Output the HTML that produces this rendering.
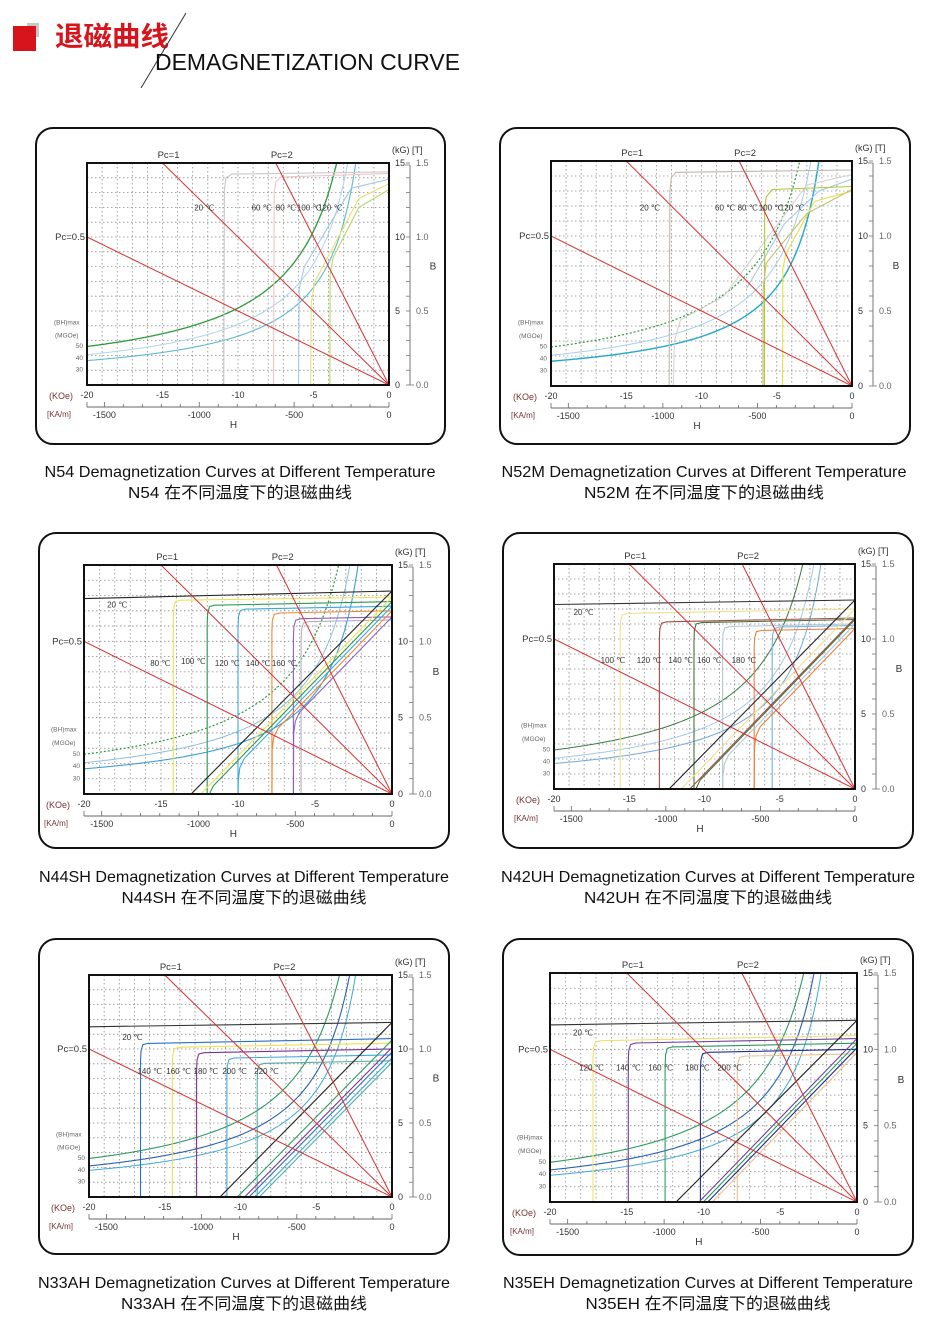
<!DOCTYPE html>
<html><head><meta charset="utf-8">
<style>
html,body{margin:0;padding:0;background:#fff;}
svg{display:block;}
</style></head>
<body>
<svg id="s" xmlns="http://www.w3.org/2000/svg" width="940" height="1321" viewBox="0 0 940 1321">
<rect width="940" height="1321" fill="#fff"/>
<rect x="27" y="23" width="12" height="14" fill="#c8c8c8"/>
<rect x="13" y="26" width="23" height="25" fill="#d7141c"/>
<text x="55" y="46" font-family="'Noto Sans CJK SC','WenQuanYi Zen Hei',sans-serif" font-weight="bold" font-size="27" fill="#d7141c" textLength="114" lengthAdjust="spacingAndGlyphs">退磁曲线</text>
<line x1="186" y1="13" x2="141" y2="88" stroke="#333" stroke-width="1"/>
<text x="155" y="70" font-family="'Liberation Sans',sans-serif" font-size="23" fill="#111" textLength="305" lengthAdjust="spacingAndGlyphs">DEMAGNETIZATION CURVE</text>
</svg>
<script>
(function(){
var NS="http://www.w3.org/2000/svg",S=document.getElementById('s');
function el(t,a,txt,par){var e=document.createElementNS(NS,t);for(var k in a)e.setAttribute(k,a[k]);if(txt!=null)e.textContent=txt;(par||S).appendChild(e);return e;}
var F="'Liberation Sans',Arial,sans-serif";
function K(Br,Hc,sl){sl=sl||0.02;var b=Br+sl*Hc;return [[0,Br],[Hc+0.5,b+0.01],[Hc+0.15,b-0.08],[Hc+0.03,b-0.5],[Hc,b-1.2],[Hc,-1]];}
function N(Br,Hc,s){s=s||1.04;var Hx=-Br/s;if(Hc<=Hx)return [[0,Br],[Hx-0.3,-0.3]];var b=Br+s*(Hc+0.4);return [[0,Br],[Hc+0.4,b],[Hc+0.12,b-0.6],[Hc+0.02,b-1.4],[Hc,-1]];}
var charts=[
{box:[35,127,446,445],p:[87,163,389,385],cap:["N54 Demagnetization Curves at Different Temperature","N54 在不同温度下的退磁曲线"],cy:[477,498],cx:240,w1:391,w2:224,
 bh:[[52,'#2a9a3a',0,1.3],[41,'#b0d4ea',0,1],[33,'#5cbad0',0,1.1]],
 cur:[['#c8c8c8',[[0,14.4],[-10.4,14.25],[-10.8,14.0],[-10.9,13.2],[-10.95,-1]]],
      ['#f0c4c4',[[0,14.3],[-7.2,14.05],[-7.5,13.7],[-7.6,13],[-7.65,-1]]],
      ['#a8c8e6',[[0,13.9],[-2.5,13.3],[-5.6,8],[-5.95,6.5],[-6.0,-1]]],
      ['#ece070',[[0,13.6],[-2,12.6],[-4.9,7],[-5.15,5.5],[-5.2,-1]]],
      ['#b8d868',[[0,13.2],[-2,12],[-3.7,8.6],[-3.9,7.5],[-3.92,-1]]]],
 lab:[['20 ℃',-12.9,11.8],['60 ℃',-9.1,11.8],['80 ℃',-7.5,11.8],['100 ℃',-6.1,11.8],['120 ℃',-4.7,11.8]]},
{box:[499,127,911,445],p:[551,161,852,386],cap:["N52M Demagnetization Curves at Different Temperature","N52M 在不同温度下的退磁曲线"],cy:[477,498],cx:704,w1:405,w2:240,
 bh:[[52,'#2a9a3a',1,1.2],[41,'#a8d0ea',0,1],[33,'#20a8c8',0,1.4]],
 cur:[['#c0b8a8',[[0,14.4],[-11.7,14.25],[-12.0,13.9],[-12.1,13],[-12.15,-1]]],
      ['#d4d4d4',[[0,14.1],[-3,13.4],[-8.5,6],[-11.4,4.4],[-11.8,3],[-11.9,-1]]],
      ['#a8c8e0',[[0,13.8],[-2.2,13],[-4.5,10.8],[-7,6.5]]],
      ['#b0c830',[[0,13.3],[-5.3,13.1],[-5.7,12.6],[-5.8,11.8],[-5.82,-1]]],
      ['#e8e040',[[0,13.0],[-2.5,12.3],[-4.4,8.8],[-4.6,7.8],[-4.62,-1]]],
      ['#c8c070',[[0,13.1],[-3,11.5],[-5.7,8.2],[-5.9,6.5],[-5.92,-1]]]],
 lab:[['20 ℃',-14.1,11.7],['60 ℃',-9.1,11.7],['80 ℃',-7.6,11.7],['100 ℃',-6.2,11.7],['120 ℃',-4.8,11.7]]},
{box:[38,532,450,849],p:[84,565,392,794],cap:["N44SH Demagnetization Curves at Different Temperature","N44SH 在不同温度下的退磁曲线"],cy:[882,903],cx:244,w1:410,w2:245,
 bh:[[52,'#2a9a3a',1,1.2],[41,'#8cc0e0',0,1],[33,'#3aa0d8',0,1.1]],
 cur:[['#222',[[0,13.3],[-20,12.8]]],
      ['#f0e050',K(12.9,-14.2,0.015)],['#2a9a50',K(12.6,-12.0,0.02)],['#38a8e0',K(12.3,-10.0,0.02)],['#f08830',K(12.0,-7.8,0.02)],['#9060c0',K(11.6,-6.4,0.02)],['#b0b0c8',K(11.4,-5.9,0.02)],
      ['#222',N(13.3,-30,1.02)],['#f0e050',N(12.9,-14.2)],['#2a9a50',N(12.6,-12)],['#38a8e0',N(12.3,-10)],['#f08830',N(12.0,-7.8)],['#9060c0',N(11.6,-6.4)]],
 lab:[['20 ℃',-18.5,12.2],['80 ℃',-15.7,8.4],['100 ℃',-13.7,8.5],['120 ℃',-11.5,8.4],['140 ℃',-9.5,8.4],['160 ℃',-7.8,8.4]]},
{box:[502,532,914,849],p:[554,564,855,789],cap:["N42UH Demagnetization Curves at Different Temperature","N42UH 在不同温度下的退磁曲线"],cy:[882,903],cx:708,w1:414,w2:248,
 bh:[[52,'#3a7a40',0,1],[41,'#a8c8e8',0,1],[34,'#70a8d8',0,1]],
 cur:[['#333',[[0,12.6],[-20,12.3]]],
      ['#f0e090',K(12.0,-15.6,0.02)],['#a05040',K(11.4,-13.0,0.02)],['#4a7040',K(11.3,-10.7,0.02)],['#b0c8d8',K(11.0,-8.8,0.02)],['#f08040',K(10.7,-6.7,0.02)],['#70b0e0',K(10.9,-5.5,0.02)],
      ['#222',N(12.6,-30,1.02)],['#f0e090',N(12.0,-15.6)],['#a05040',N(11.4,-13)],['#4a7040',N(11.3,-10.7)],['#b0c8d8',N(11.0,-8.8)],['#f08040',N(10.7,-6.7)]],
 lab:[['20 ℃',-18.7,11.6],['100 ℃',-16.9,8.4],['120 ℃',-14.5,8.4],['140 ℃',-12.4,8.4],['160 ℃',-10.5,8.4],['180 ℃',-8.2,8.4]]},
{box:[38,938,450,1255],p:[89,975,392,1197],cap:["N33AH Demagnetization Curves at Different Temperature","N33AH 在不同温度下的退磁曲线"],cy:[1288,1309],cx:244,w1:412,w2:246,
 bh:[[52,'#2a9a60',0,1.1],[42,'#2a60b0',0,1.1],[36,'#40a8d8',0,1]],
 cur:[['#333',[[0,11.8],[-20,11.5]]],
      ['#2a70c0',K(10.7,-16.6,0.02)],['#f0e050',K(10.4,-14.5,0.02)],['#803090',K(10.0,-12.9,0.02)],['#40a8d8',K(9.6,-10.9,0.02)],['#50b0a0',K(9.2,-8.9,0.02)],
      ['#222',N(11.8,-30,1.04)],['#2a9a60',N(10.6,-30)],['#803090',N(10.1,-30)],['#2a70c0',N(9.8,-30)],['#40a8d8',N(9.4,-30)],['#50b0a0',N(9.1,-30)]],
 lab:[['20 ℃',-17.8,10.6],['140 ℃',-16.8,8.3],['160 ℃',-14.9,8.3],['180 ℃',-13.1,8.3],['200 ℃',-11.2,8.3],['220 ℃',-9.1,8.3]]},
{box:[502,938,914,1256],p:[550,973,857,1202],cap:["N35EH Demagnetization Curves at Different Temperature","N35EH 在不同温度下的退磁曲线"],cy:[1288,1309],cx:708,w1:410,w2:245,
 bh:[[52,'#2a9a60',0,1.1],[42,'#2a60b0',0,1.1],[35,'#40a8d8',0,1]],
 cur:[['#333',[[0,11.9],[-20,11.6]]],
      ['#f0e070',K(10.9,-17.2,0.02)],['#7040a0',K(10.7,-14.9,0.02)],['#2a9a60',K(10.4,-12.5,0.02)],['#203090',K(10.0,-10.2,0.02)],['#f0c090',K(9.7,-7.8,0.02)],
      ['#222',N(11.9,-30,1.01)],['#7040a0',N(10.7,-30)],['#2a9a60',N(10.4,-30)],['#203090',N(10.1,-30)],['#f0c090',N(9.8,-30)]],
 lab:[['20 ℃',-18.5,10.9],['120 ℃',-18.1,8.6],['140 ℃',-15.7,8.6],['160 ℃',-13.6,8.6],['180 ℃',-11.2,8.6],['200 ℃',-9.1,8.6]]}
];
charts.forEach(function(c,i){
 var b=c.box,x0=c.p[0],y0=c.p[1],x1=c.p[2],y1=c.p[3];
 var X=function(h){return x1+(h/20)*(x1-x0);},Y=function(v){return y1-(v/15)*(y1-y0);};
 el('rect',{x:b[0]+1,y:b[1]+1,width:b[2]-b[0]-2,height:b[3]-b[1]-2,rx:17,fill:'#fff',stroke:'#111','stroke-width':2});
 var cid='c'+i;var cp=el('clipPath',{id:cid});el('rect',{x:x0,y:y0,width:x1-x0,height:y1-y0},null,cp);
 var g=el('g',{'clip-path':'url(#'+cid+')'});
 for(var h=-19;h<0;h++)el('line',{x1:X(h),y1:y0,x2:X(h),y2:y1,stroke:'#8a8a8a','stroke-width':0.8,'stroke-dasharray':'1.5,2.5'},null,g);
 for(var v=1;v<15;v++)el('line',{x1:x0,y1:Y(v),x2:x1,y2:Y(v),stroke:'#8a8a8a','stroke-width':0.8,'stroke-dasharray':'1.5,2.5'},null,g);
 c.bh.forEach(function(q){var d='';for(var hh=-20;hh<=-1.5;hh+=0.1){var bb=q[0]/(-hh);d+=(d?'L':'M')+X(hh).toFixed(1)+' '+Y(bb).toFixed(1);}
  var a={d:d,fill:'none',stroke:q[1],'stroke-width':q[3]};if(q[2])a['stroke-dasharray']='2,2';el('path',a,null,g);});
 c.cur.forEach(function(q){var d='';q[1].forEach(function(pt,j){d+=(j?'L':'M')+X(pt[0]).toFixed(1)+' '+Y(pt[1]).toFixed(1);});
  el('path',{d:d,fill:'none',stroke:q[0],'stroke-width':1.1,'stroke-linejoin':'round'},null,g);});
 [[-20,10],[-15,15],[-7.5,15]].forEach(function(e){el('line',{x1:X(0),y1:Y(0),x2:X(e[0]),y2:Y(e[1]),stroke:'#d83030','stroke-width':1},null,g);});
 el('rect',{x:x0,y:y0,width:x1-x0,height:y1-y0,fill:'none',stroke:'#111','stroke-width':2});
 c.lab.forEach(function(l){el('text',{x:X(l[1]),y:Y(l[2]),'font-family':F,'font-size':8,fill:'#333'},l[0]);});
 var t=function(x,y,s,fs,anc,col){el('text',{x:x,y:y,'font-family':F,'font-size':fs,'text-anchor':anc||'start',fill:col||'#333'},s);};
 t(X(-14.6),y0-5,'Pc=1',9.5,'middle');t(X(-7.1),y0-5,'Pc=2',9.5,'middle');t(x0-2,Y(10)+3,'Pc=0.5',9.5,'end');
 t(x1+3,y0-10,'(kG)  [T]',9);
 [[15,'15','1.5'],[10,'10','1.0'],[5,'5','0.5'],[0,'0','0.0']].forEach(function(k){t(x1+6,Y(k[0])+3,k[1],9);t(x1+27,Y(k[0])+3,k[2],9,'start','#666');});
 el('line',{x1:x1+21,y1:y0+2,x2:x1+21,y2:y1,stroke:'#777','stroke-width':1});
 for(var v=0;v<=15;v++)el('line',{x1:x1+17,y1:Y(v),x2:x1+21,y2:Y(v),stroke:'#777','stroke-width':0.8});
 el('line',{x1:x1+21,y1:y1,x2:x1+25,y2:y1,stroke:'#777','stroke-width':0.8});
 el('line',{x1:x1+21,y1:y0+2,x2:x1+16,y2:y0+2,stroke:'#777','stroke-width':0.8});
 t(x1+44,Y(7.8),'B',10,'middle');
 [-20,-15,-10,-5,0].forEach(function(h){t(X(h),y1+13,String(h),9,'middle');});
 t(x0-38,y1+14,'(KOe)',9,'start','#733');
 var ya=y1+22;el('line',{x1:X(-20),y1:ya,x2:X(0),y2:ya,stroke:'#666','stroke-width':1});
 for(var k=0;k<=15;k++){var hh=-k*100/79.577;el('line',{x1:X(hh),y1:ya,x2:X(hh),y2:ya-(k%5==0?5:3),stroke:'#666','stroke-width':0.8});}
 el('line',{x1:X(-20),y1:ya,x2:X(-20),y2:ya-5,stroke:'#666','stroke-width':0.8});
 [[-1500,'-1500'],[-1000,'-1000'],[-500,'-500'],[0,'0']].forEach(function(k){t(X(k[0]/79.577),ya+11,k[1],9,'middle');});
 t(x0-40,ya+10,'[KA/m]',8,'start','#733');
 t(X(-10.3),ya+21,'H',10,'middle');
 t(x0-33,Y(4.1),'(BH)max',6.5,'start','#666');t(x0-32,Y(3.2),'(MGOe)',6.5,'start','#666');
 t(x0-4,Y(2.5),'50',6.5,'end','#666');t(x0-4,Y(1.7),'40',6.5,'end','#666');t(x0-4,Y(0.9),'30',6.5,'end','#666');
 el('text',{x:c.cx,y:c.cy[0],'font-family':F,'font-size':16,'text-anchor':'middle',fill:'#111',textLength:c.w1,lengthAdjust:'spacingAndGlyphs'},c.cap[0]);
 el('text',{x:c.cx,y:c.cy[1],'font-family':"'Liberation Sans','Noto Sans CJK SC',sans-serif",'font-size':16,'text-anchor':'middle',fill:'#111',textLength:c.w2,lengthAdjust:'spacingAndGlyphs'},c.cap[1]);
});
})();
</script>
</body></html>
